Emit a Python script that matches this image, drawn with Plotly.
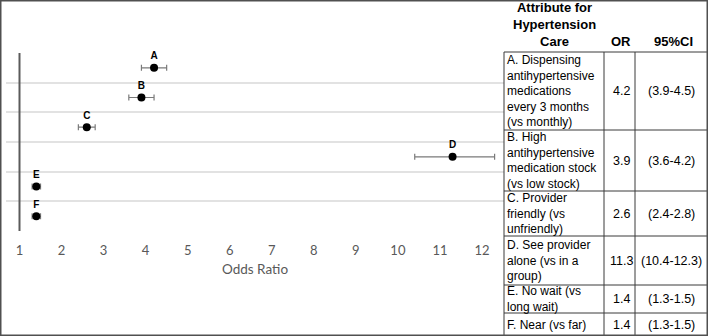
import plotly.graph_objects as go

# ---- data ----
labels = ["A", "B", "C", "D", "E", "F"]
attributes = [
    "A. Dispensing<br>antihypertensive<br>medications<br>every 3 months<br>(vs monthly)",
    "B. High<br>antihypertensive<br>medication stock<br>(vs low stock)",
    "C. Provider<br>friendly (vs<br>unfriendly)",
    "D. See provider<br>alone (vs in a<br>group)",
    "E. No wait (vs<br>long wait)",
    "F. Near (vs far)",
]
odds_ratio = [4.2, 3.9, 2.6, 11.3, 1.4, 1.4]
ci_low = [3.9, 3.6, 2.4, 10.4, 1.3, 1.3]
ci_high = [4.5, 4.2, 2.8, 12.3, 1.5, 1.5]
x_ticks = [1, 2, 3, 4, 5, 6, 7, 8, 9, 10, 11, 12]
header_attr = "Attribute for<br>Hypertension<br>Care"
header_or = "OR"
header_ci = "95%CI"
x_title = "Odds Ratio"

# ---- layout constants (pixels) ----
W, H = 708, 336
def px(x):
    return x / W
def py(y):
    return 1 - y / H

rows_idx = list(range(len(labels)))
err_plus = [h - o for h, o in zip(ci_high, odds_ratio)]
err_minus = [o - l for o, l in zip(odds_ratio, ci_low)]
ci_text = [f"({l}-{h})" for l, h in zip(ci_low, ci_high)]

fig = go.Figure()
fig.add_trace(go.Scatter(
    x=odds_ratio, y=rows_idx, mode="markers+text",
    text=labels, textposition="top center",
    textfont=dict(family="Arial, Liberation Sans", size=10, color="black", weight="bold"),
    marker=dict(color="black", size=8),
    error_x=dict(type="data", symmetric=False, array=err_plus, arrayminus=err_minus,
                 color="#7a7a7a", thickness=1.2, width=3),
    showlegend=False, cliponaxis=False,
))

# x axis mapping: 1 -> 19.5px, 12 -> 482px
scale = (482 - 19.5) / 11
x0_px, x1_px = 6, 504
xr = [1 - (19.5 - x0_px) / scale, 1 + (x1_px - 19.5) / scale]

fig.update_layout(
    width=W, height=H,
    margin=dict(l=0, r=0, t=0, b=0),
    paper_bgcolor="white", plot_bgcolor="white",
    xaxis=dict(domain=[px(x0_px), px(x1_px)], range=xr, tickvals=x_ticks,
               showgrid=False, zeroline=False, showline=False,
               ticks="outside", ticklen=7, tickcolor="rgba(0,0,0,0)",
               tickfont=dict(family="Lato", size=13, color="#595959"),
               title=dict(text=x_title, standoff=7,
                          font=dict(family="Lato", size=13.5, color="#595959"))),
    yaxis=dict(domain=[py(231), py(53)], range=[5.5, -0.5],
               tickvals=[-0.5, 0.5, 1.5, 2.5, 3.5, 4.5, 5.5],
               showticklabels=False, showgrid=True, gridcolor="#e2e2e2", gridwidth=1.5,
               zeroline=False, showline=False, ticks=""),
)

shapes = []
# vertical reference line at OR = 1
shapes.append(dict(type="line", xref="x", yref="y domain", x0=1, x1=1, y0=0, y1=1,
                   line=dict(color="#5a5a5a", width=2)))

# table lines
row_edges = [52, 130, 191, 236, 285, 313, 336]
tab_l, col_or, col_ci, tab_r = 504, 604, 635, 708
line_c = "#3a3a3a"
for ye in row_edges[:-1]:
    shapes.append(dict(type="line", xref="paper", yref="paper",
                       x0=px(tab_l), x1=px(tab_r), y0=py(ye), y1=py(ye),
                       line=dict(color=line_c, width=1)))
for xe in [tab_l, col_or, col_ci]:
    shapes.append(dict(type="line", xref="paper", yref="paper",
                       x0=px(xe), x1=px(xe), y0=py(row_edges[0]), y1=0,
                       line=dict(color=line_c, width=1)))
# outer frame
shapes.append(dict(type="rect", xref="paper", yref="paper", x0=px(0.75), x1=px(707.25),
                   y0=py(335.25), y1=py(0.75), line=dict(color="#505050", width=1.5)))
fig.update_layout(shapes=shapes)

ann = []
hfont = dict(family="Arial, Liberation Sans", size=13, color="black", weight="bold")
bfont = dict(family="Arial, Liberation Sans", size=12, color="black")
nfont = dict(family="Arial, Liberation Sans", size=12.5, color="black")
or_cx, ci_cx = 621, 671
ann.append(dict(text=header_attr, x=px(554), y=py(51), xref="paper", yref="paper",
                xanchor="center", yanchor="bottom", showarrow=False, font=hfont, align="center"))
ann.append(dict(text=header_or, x=px(or_cx), y=py(51), xref="paper", yref="paper",
                xanchor="center", yanchor="bottom", showarrow=False, font=hfont))
ann.append(dict(text=header_ci, x=px(ci_cx + 2), y=py(51), xref="paper", yref="paper",
                xanchor="center", yanchor="bottom", showarrow=False, font=hfont))
for i in rows_idx:
    yc = (row_edges[i] + row_edges[i + 1]) / 2
    ann.append(dict(text=attributes[i], x=px(505), y=py(yc), xref="paper", yref="paper",
                    xanchor="left", yanchor="middle", showarrow=False, font=bfont, align="left"))
    ann.append(dict(text=str(odds_ratio[i]), x=px(or_cx), y=py(yc), xref="paper", yref="paper",
                    xanchor="center", yanchor="middle", showarrow=False, font=nfont))
    ann.append(dict(text=ci_text[i], x=px(ci_cx), y=py(yc), xref="paper", yref="paper",
                    xanchor="center", yanchor="middle", showarrow=False, font=nfont))
fig.update_layout(annotations=ann)

fig.write_html(
    "out.html",
    config={"displayModeBar": False},
    post_script="document.body.style.margin='0';document.body.style.overflow='hidden';",
)
